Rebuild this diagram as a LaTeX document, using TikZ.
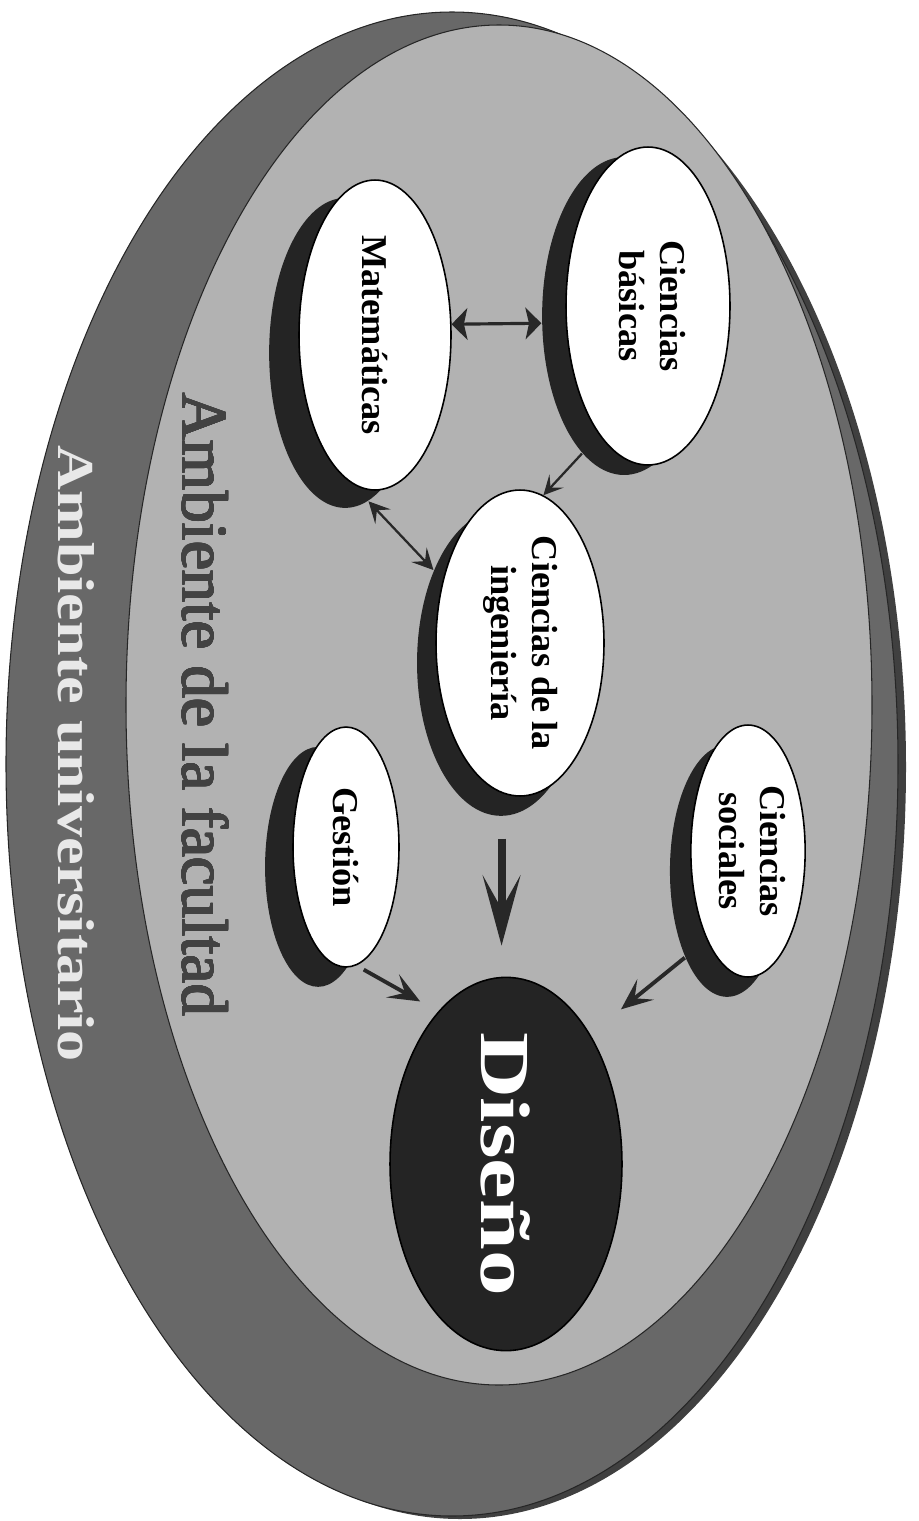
\documentclass[tikz,border=0pt]{standalone}
\usepackage{fontspec}
\setmainfont{Liberation Serif}
\usepackage{contour}
\contourlength{0.35pt}
\usetikzlibrary{arrows.meta,shadows,shapes.geometric}

\definecolor{bandgray}{RGB}{104,104,104}
\definecolor{rimgray}{RGB}{64,64,64}
\definecolor{fieldgray}{RGB}{178,178,178}
\definecolor{shadowc}{RGB}{36,36,36}
\definecolor{inkc}{RGB}{40,40,40}
\definecolor{titledark}{RGB}{66,66,66}
\definecolor{titlelight}{RGB}{232,232,232}

\begin{document}
\begin{tikzpicture}[x=0.02cm, y=-0.02cm,
  bubble/.style 2 args={ellipse, draw=black, line width=0.9pt, fill=white,
    inner sep=0pt, align=center,
    general shadow={fill=shadowc, shadow xshift=#1, shadow yshift=#2},
    font=\bfseries\fontsize{20.7}{23}\selectfont},
  core/.style={ellipse, draw=black, line width=0.9pt, fill=shadowc,
    inner sep=0pt, text=white, font=\bfseries\fontsize{40}{44}\selectfont},
  title/.style={rotate=-90, anchor=base west, inner sep=0pt},
  dbl/.style={draw=inkc, line width=1.8pt,
    {Stealth[length=9pt, width=18pt, inset=2pt]}-{Stealth[length=9pt, width=18pt, inset=2pt]}},
  thinarrow/.style={draw=inkc, line width=1.3pt,
    -{Stealth[length=11pt, width=11pt, inset=5pt]}},
  thinboth/.style={draw=inkc, line width=1.3pt,
    {Stealth[length=12pt, width=12pt, inset=5pt]}-{Stealth[length=12pt, width=12pt, inset=5pt]}},
  medarrow/.style={draw=inkc, line width=2.2pt,
    -{Stealth[length=18pt, width=15pt, inset=8pt]}},
  bigarrow/.style={draw=inkc, line width=4.5pt,
    -{Stealth[length=40pt, width=21.5pt, inset=19pt]}}
]
\useasboundingbox (0,0) rectangle (919,1521);

% university ring: dark rim, then the band itself
\fill[rimgray] (460,767) ellipse [x radius=446, y radius=752];
\filldraw[fill=bandgray, draw=black!85, line width=0.6pt]
  (452,764) ellipse [x radius=446, y radius=752];

% faculty field
\filldraw[fill=fieldgray, draw=black!85, line width=0.6pt]
  (499,705) ellipse [x radius=373, y radius=680];

% ring captions
\node[title, text=titlelight, font=\bfseries\fontsize{29.5}{32}\selectfont] (uni)
  at (58,445) {\scalebox{1.2}[1]{Ambiente universitario}};
\node[title, text=titledark, font=\fontsize{37}{40}\selectfont] (fac)
  at (183,393) {\contour{titledark}{Ambiente de la facultad}};

% knowledge areas
\node[bubble={-13.6pt}{-5.7pt}, minimum width=3.28cm, minimum height=6.36cm] (cb)
  at (648,306) {\rotatebox{-90}{\begin{tabular}{@{}c@{}}Ciencias\\básicas\end{tabular}}};
\node[bubble={-17pt}{-10.2pt}, minimum width=3.04cm, minimum height=6.2cm] (mat)
  at (375,335) {\rotatebox{-90}{Matemáticas}};
\node[bubble={-10.8pt}{-11.3pt}, minimum width=3.36cm, minimum height=6.12cm] (ing)
  at (520,643) {\rotatebox{-90}{\begin{tabular}{@{}c@{}}Ciencias de la\\ingeniería\end{tabular}}};
\node[bubble={-15.9pt}{-11.3pt}, minimum width=2.12cm, minimum height=4.8cm] (ges)
  at (346,847) {\rotatebox{-90}{Gestión}};
\node[bubble={-11.9pt}{-11.3pt}, minimum width=2.28cm, minimum height=5.04cm] (soc)
  at (748,851) {\rotatebox{-90}{\begin{tabular}{@{}c@{}}Ciencias\\sociales\end{tabular}}};

% design core
\node[core, minimum width=4.64cm, minimum height=6.6cm] (dis)
  at (506,1164) {\rotatebox{-90}{\scalebox{1.3}[1]{Diseño}}};

% relations
\draw[dbl] (mat.8) -- ([shift={(-24,10)}]cb.185);
\draw[thinarrow] ([shift={(-24,10)}]cb.253) -- (ing.81);
\draw[thinboth] ([shift={(-30,18)}]mat.279) -- ([shift={(-19,20)}]ing.126);
\draw[bigarrow, shorten <=25.9pt, shorten >=17.6pt] (ing.263) -- (ing.263 |- dis.north);
\draw[medarrow, shorten <=4.8pt, shorten >=11.7pt] (ges.275) -- (dis.114);
\draw[medarrow, shorten >=22.5pt] ([shift={(-21,20)}]soc.244) -- (dis.57);
\end{tikzpicture}
\end{document}
